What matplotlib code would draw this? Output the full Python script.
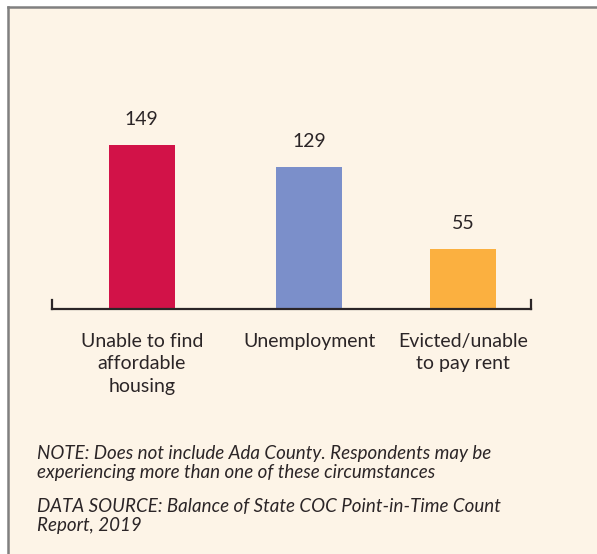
import matplotlib.pyplot as plt
from matplotlib.lines import Line2D
from matplotlib.patches import Rectangle

# data
categories = ["Unable to find\naffordable\nhousing", "Unemployment", "Evicted/unable\nto pay rent"]
values = [149, 129, 55]
bar_colors = ["#d21248", "#7b8fca", "#fbb040"]
note_text = ("NOTE: Does not include Ada County. Respondents may be\n"
             "experiencing more than one of these circumstances")
source_text = ("DATA SOURCE: Balance of State COC Point-in-Time Count\n"
               "Report, 2019")

W, H = 597, 554
bg = "#fdf4e7"
ink = "#2b2527"
plt.rcParams["font.family"] = ["Lato", "DejaVu Sans"]

fig = plt.figure(figsize=(W / 100, H / 100), dpi=100, facecolor="white")

# cream panel with grey border on top and left
fig.add_artist(Rectangle((8 / W, 0), 1, 1 - 7 / H, transform=fig.transFigure,
                         facecolor=bg, edgecolor="none", zorder=0))
fig.add_artist(Line2D([8 / W, 1], [1 - 7 / H, 1 - 7 / H], transform=fig.transFigure,
                      color="#808080", lw=1.8))
fig.add_artist(Line2D([8 / W, 8 / W], [0, 1 - 7 / H], transform=fig.transFigure,
                      color="#808080", lw=1.8))

# axes: baseline at y=309px, from x=52 to x=531
ax_top_px, base_px = 100, 309
ax = fig.add_axes([52 / W, 1 - base_px / H, (531 - 52) / W, (base_px - ax_top_px) / H])
ax.set_facecolor("none")

pos = [0, 1.045, 2.005]
ax.bar(pos, values, width=0.41, color=bar_colors, zorder=2)
ax.set_xlim(-0.56, 2.43)
ax.set_ylim(0, 190)

for x, v in zip(pos, values):
    ax.annotate(str(v), (x, v), xytext=(0, 12), textcoords="offset points",
                ha="center", va="bottom", fontsize=14, color=ink)

for s in ["top", "left", "right"]:
    ax.spines[s].set_visible(False)
ax.spines["bottom"].set_linewidth(1.6)
ax.spines["bottom"].set_color(ink)
tick_h = 9 / (base_px - ax_top_px)
for xe in ax.get_xlim():
    ax.axvline(xe, ymin=0, ymax=tick_h, color=ink, lw=1.6, clip_on=False)

ax.set_yticks([])
ax.set_xticks(pos)
ax.set_xticklabels(categories, fontsize=14, color=ink, linespacing=1.42)
ax.tick_params(axis="x", length=0, pad=17)

fig.text(37 / W, 1 - 445 / H, note_text, fontsize=13.5, style="italic", color=ink,
         va="top", linespacing=1.12)
fig.text(37 / W, 1 - 498 / H, source_text, fontsize=13.5, style="italic", color=ink,
         va="top", linespacing=1.12)

fig.savefig("out.png", dpi=100, facecolor="white")
